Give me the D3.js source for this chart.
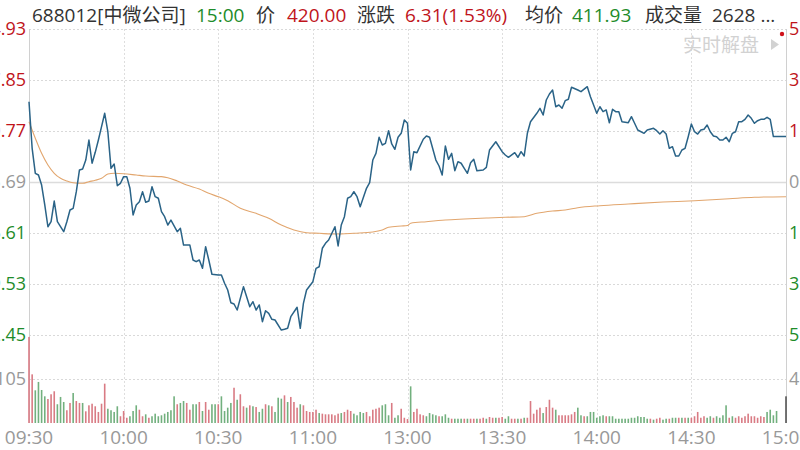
<!DOCTYPE html>
<html><head><meta charset="utf-8">
<script src="https://cdn.jsdelivr.net/npm/d3@7"></script>
<style>html,body{margin:0;padding:0;background:#fff;overflow:hidden}svg{display:block}</style>
</head><body><svg id="c" width="800" height="450"></svg>
<script>
// ---- data ----
const timeLabels = ["09:30","10:00","10:30","11:00","13:00","13:30","14:00","14:30","15:00"];
const timeTickIdx = [0,30,60,90,120,150,180,210,240];
const priceTicks = [434.93,427.85,420.77,413.69,406.61,399.53,392.45];
const pctLabels = ["5.13%","3.42%","1.71%","0.00%","1.71%","3.42%","5.13%"];
const prevClose = 413.69;
const volTick = 4105;
const volMax = 8210;

const priceMin = [0,1,2,3,4,5,6,7,8,9,11,12,13,14,15,16,17,18,19,20,21,22,23,24,25,26,27,28,29,30,31,32,33,34,35,36,37,38,39,40,41,42,43,44,45,47,48,49,51,52,53,54,55,56,57,58,60,61,62,63,64,65,66,68,69,70,71,72,73,74,75,76,77,78,80,81,82,83,85,86,87,88,90,91,92,93,94,95,97,98,99,100,101,102,103,104,105,107,108,109,110,111,112,113,114,115,116,117,118,119,120,121,122,123,125,126,127,129,130,131,132,133,134,135,136,137,138,139,140,141,142,144,145,146,148,150,151,152,154,155,156,157,158,159,161,162,163,164,165,166,167,168,169,170,171,172,174,175,177,178,179,180,181,182,183,184,185,186,187,188,190,191,192,193,195,196,198,199,200,201,202,203,204,205,206,207,208,209,210,211,212,213,214,215,216,217,218,219,220,221,222,223,224,225,226,227,228,229,230,231,232,233,234,235,236,240];
const prices = [424.84,418.37,414.90,414.66,413.27,410.50,407.48,408.18,411.05,408.18,406.79,408.18,409.80,410.04,412.34,415.36,415.49,416.74,419.52,416.29,417.81,419.52,421.37,423.23,420.67,415.59,416.19,413.18,413.51,414.43,414.43,412.82,409.11,410.50,410.96,412.34,410.87,411.05,413.04,411.65,411.43,409.57,408.87,407.72,408.41,406.79,407.26,404.94,404.94,402.86,402.63,402.86,401.71,404.71,402.86,400.88,400.78,400.78,399.63,398.70,396.93,396.75,395.92,399.16,397.77,396.38,397.07,395.92,396.62,394.30,395.82,395.46,394.63,394.53,393.14,393.24,393.38,394.99,396.30,393.38,396.85,398.70,399.85,401.71,401.93,404.49,405.18,405.64,407.48,404.81,407.72,408.87,411.43,411.65,412.34,411.65,410.26,412.82,413.59,416.74,417.67,419.90,418.83,419.06,420.81,418.97,418.23,419.90,420.45,422.30,421.84,415.36,417.90,417.76,419.62,420.08,419.90,416.74,415.91,414.66,418.69,416.84,417.67,415.26,416.51,416.29,415.59,414.90,416.37,416.84,415.26,415.36,415.73,418.13,419.28,417.90,417.44,417.12,417.76,417.12,417.90,417.30,420.45,422.06,423.23,423.92,422.99,425.07,425.91,426.46,424.14,424.38,423.92,424.98,425.17,426.84,426.46,426.23,426.92,425.53,424.38,423.23,424.14,423.45,423.69,421.92,423.78,423.45,423.45,422.06,421.92,422.76,421.84,420.91,420.45,420.91,421.14,420.81,420.35,420.81,420.35,418.37,418.59,417.30,417.30,418.13,418.37,419.98,421.74,420.67,420.35,420.91,421.01,421.60,420.67,420.08,419.98,419.52,419.52,419.90,419.28,420.45,420.67,422.06,422.06,422.39,422.99,422.53,421.84,422.20,422.39,422.39,422.67,422.39,420.00,420.00];

const avgMin = [0,2,4,6,8,10,12,14,17,19,21,23,25,27,30,34,37,42,44,47,50,54,57,60,63,67,72,76,80,84,88,92,96,99,103,109,112,114,118,120,121,126,132,138,145,151,157,161,166,170,174,181,190,201,211,222,230,240];
const avgPrices = [422.06,419.76,417.67,416.05,414.90,414.20,413.83,413.59,413.51,413.73,413.93,414.20,414.80,414.90,414.84,414.66,414.52,414.43,414.29,413.83,413.27,412.72,412.12,411.65,411.09,410.04,409.34,408.65,407.72,407.03,406.65,406.57,406.47,406.47,406.57,406.75,407.03,407.40,407.58,407.65,407.96,408.18,408.41,408.55,408.69,408.79,408.87,409.34,409.66,409.80,410.12,410.40,410.64,410.91,411.09,411.37,411.57,411.65];

// volume per minute (lots): 09:30-11:30 (121), 13:01-14:57 (117), 14:58-15:00
const volAM = [8030,4540,3050,3830,3080,2490,2240,2680,2960,1750,
 2430,1960,1190,1870,2800,2050,1870,1870,1090,1650,
 1800,1560,1030,1800,3670,1330,1190,1030,1560,630,
 1120,490,630,1120,1650,1240,630,810,490,630,
 870,630,720,870,1030,1190,2490,1750,1870,2050,
 1870,1240,1750,1750,1960,1120,1960,1240,1750,1750,
 1750,2490,1120,1430,1870,3290,2170,2680,1560,1430,
 1650,1560,1490,1030,1330,1750,1650,1560,1030,2360,
 2270,2580,1960,2430,1960,1430,1750,1650,1120,1030,
 1030,1240,930,870,810,810,810,720,870,930,
 1030,1240,1120,870,720,1030,930,1030,630,1240,
 1330,1430,1650,1750,720,1870,490,720,1330,490,
 370];
const volPM = [3420,1030,1330,810,720,630,930,810,720,630,
 630,810,490,400,400,400,400,400,400,400,
 400,400,400,490,400,560,490,490,490,560,
 400,630,400,400,400,400,490,490,2050,870,
 1240,1430,930,1490,2170,1430,1240,720,720,720,
 720,810,1030,1430,720,630,630,1030,1030,490,
 630,720,630,630,630,400,400,400,400,400,
 490,490,630,560,560,400,400,310,400,490,
 310,400,400,490,490,490,490,490,490,490,
 630,1030,490,630,490,630,490,630,490,720,
 1650,490,630,490,630,490,630,870,630,630,
 490,630,560,1030,1240,720,1120];
const volClose = [0,0,2490];
// 1 = up (red), -1 = down (green), 0 = closing auction
const dirAM = [1,1,-1,-1,-1,-1,1,1,1,-1,
 -1,-1,1,1,-1,1,1,-1,1,1,
 1,1,1,1,1,-1,-1,-1,-1,1,
 1,1,-1,-1,-1,1,1,-1,1,-1,
 -1,-1,-1,-1,-1,-1,-1,1,-1,-1,
 1,1,-1,-1,1,-1,1,1,-1,-1,
 1,-1,-1,-1,-1,1,-1,1,1,-1,
 1,-1,1,-1,-1,1,-1,1,-1,-1,
 -1,1,-1,1,1,1,-1,1,1,1,
 1,1,-1,1,1,1,1,1,1,-1,
 1,1,1,-1,-1,-1,-1,1,1,1,
 1,1,-1,-1,-1,1,-1,-1,1,1,
 1];
const dirPM = [-1,1,1,1,1,-1,-1,-1,-1,1,
 -1,-1,-1,1,-1,-1,-1,1,-1,1,
 1,-1,1,1,-1,1,1,-1,1,1,
 -1,-1,1,1,-1,1,-1,1,1,1,
 1,1,-1,1,1,1,-1,1,1,1,
 1,1,1,-1,-1,1,-1,-1,-1,-1,
 -1,-1,1,-1,-1,-1,-1,-1,-1,-1,
 -1,-1,-1,-1,-1,-1,1,-1,1,1,
 -1,-1,1,-1,-1,1,-1,1,-1,1,
 1,1,1,1,-1,-1,1,-1,-1,-1,
 -1,1,-1,1,1,1,1,1,1,1,
 1,1,1,-1,-1,-1,-1];
const dirClose = [0,0,0];

const header = [
  {t:"688012[中微公司]", c:"#333", x:32},
  {t:"15:00", c:"#1e8c2a", x:196},
  {t:"价", c:"#333", x:256},
  {t:"420.00", c:"#c0141b", x:287},
  {t:"涨跌", c:"#333", x:357},
  {t:"6.31(1.53%)", c:"#c0141b", x:405},
  {t:"均价", c:"#333", x:525},
  {t:"411.93", c:"#1e8c2a", x:572},
  {t:"成交量", c:"#333", x:645},
  {t:"2628 ...", c:"#333", x:712}
];

// ---- drawing ----
const RED="#c0141b", GREEN="#1e8c2a", GRAY="#999";
const FONT = "'Open Sans','Noto Sans CJK SC',sans-serif";
const svg = d3.select("#c");
const L=29, R=786, T=29, PB=335, VB=423;
const x = d3.scaleLinear().domain([0,240]).range([L,R]);
const y = d3.scaleLinear().domain([priceTicks[6], priceTicks[0]]).range([PB,T]);
const yv = d3.scaleLinear().domain([0, volMax]).range([VB, PB]);

const grid = svg.append("g");
// horizontal price grid
priceTicks.forEach((p,i)=>{
  const yy = Math.round(y(p))+0.5;
  grid.append("line").attr("x1",L).attr("x2",R).attr("y1",yy).attr("y2",yy)
    .attr("stroke", p===prevClose ? "#dcdcdc" : "#d9d9d9")
    .attr("stroke-width", p===prevClose ? 1.3 : 1)
    .attr("stroke-dasharray", p===prevClose ? null : "2,2");
});
// volume grid
{ const yy = Math.round(yv(volTick))+0.5;
  grid.append("line").attr("x1",L).attr("x2",R).attr("y1",yy).attr("y2",yy)
    .attr("stroke","#d9d9d9").attr("stroke-dasharray","2,2"); }
// vertical grid
timeTickIdx.forEach((t,i)=>{
  const xx = Math.round(x(t))+0.5;
  const edge = (i===0 || i===timeTickIdx.length-1);
  grid.append("line").attr("x1",xx).attr("x2",xx).attr("y1",T).attr("y2",VB)
    .attr("stroke", edge ? "#d0d0d0" : "#dedede")
    .attr("stroke-dasharray", edge ? null : "2,2");
});

// volume bars
const volumes = volAM.concat(volPM, volClose);
const dirs = dirAM.concat(dirPM, dirClose);
svg.append("g").selectAll("rect").data(volumes.map((v,i)=>({v,i,d:dirs[i]})).filter(d=>d.v>0))
  .join("rect")
  .attr("x", d=>x(d.i)-0.8).attr("width",1.6)
  .attr("y", d=>yv(d.v)).attr("height", d=>VB - yv(d.v))
  .attr("fill", d=> d.d>0 ? "#d97b84" : d.d<0 ? "#72b07e" : "#555");

// avg line
const avgData = avgMin.map((m,i)=>[m,avgPrices[i]]);
svg.append("path").datum(avgData)
  .attr("d", d3.line().x(d=>x(d[0])).y(d=>y(d[1])).curve(d3.curveMonotoneX))
  .attr("fill","none").attr("stroke","#e2a66e").attr("stroke-width",1.1);

// price line
const priceData = priceMin.map((m,i)=>[m,prices[i]]);
svg.append("path").datum(priceData)
  .attr("d", d3.line().x(d=>x(d[0])).y(d=>y(d[1])))
  .attr("fill","none").attr("stroke","#2a6387").attr("stroke-width",1.5)
  .attr("stroke-linejoin","round");

// left price labels
const lab = svg.append("g").attr("font-family",FONT).attr("font-size",18);
priceTicks.forEach((p,i)=>{
  const c = i<3 ? RED : i===3 ? GRAY : GREEN;
  lab.append("text").attr("x",26).attr("y",y(p)).attr("dy","0.36em")
    .attr("text-anchor","end").attr("fill",c).text(p.toFixed(2));
  lab.append("text").attr("x",789).attr("y",y(p)).attr("dy","0.36em")
    .attr("text-anchor","start").attr("fill",c).text(pctLabels[i]);
});
lab.append("text").attr("x",26).attr("y",yv(volTick)).attr("dy","0.36em")
  .attr("text-anchor","end").attr("fill",GRAY).text(String(volTick));
lab.append("text").attr("x",789).attr("y",yv(volTick)).attr("dy","0.36em")
  .attr("text-anchor","start").attr("fill",GRAY).text(String(volTick));

// time labels
const tl = svg.append("g").attr("font-family",FONT).attr("font-size",19).attr("fill",GRAY);
timeTickIdx.forEach((t,i)=>{
  tl.append("text").attr("x",x(t)).attr("y",444).attr("text-anchor","middle").text(timeLabels[i]);
});

// header
const hg = svg.append("g").attr("font-family",FONT).attr("font-size",19);
header.forEach(h=>{
  hg.append("text").attr("x",h.x).attr("y",22).attr("fill",h.c).text(h.t);
});

// real-time hint + marker
svg.append("text").attr("x",683).attr("y",52).attr("font-family",FONT).attr("font-size",19)
  .attr("fill","#d2d2d2").text("实时解盘");
svg.append("path").attr("d","M771,39 L779,44.5 L771,50 Z").attr("fill","#d2d2d2");
svg.append("circle").attr("cx",782).attr("cy",34).attr("r",2.2).attr("fill","#d0121b");
</script>
</body></html>
